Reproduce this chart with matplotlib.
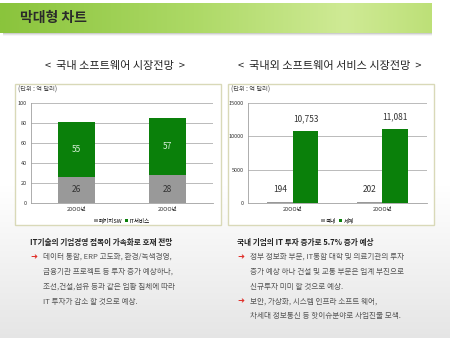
import numpy as np
from matplotlib import pyplot as plt
from matplotlib.patches import Rectangle

plt.rcParams['font.family'] = ['Noto Sans CJK KR', 'DejaVu Sans']

# data
years = ['20OO년', '20OO년']
pkg_sw = [26, 28]
it_svc = [55, 57]
domestic = [194, 202]
world = [10753, 11081]

W, H = 450, 338
def fx(px): return px / W
def fy(py): return 1 - py / H

fig = plt.figure(figsize=(4.5, 3.38), dpi=100)

# slide background with soft gray fade at bottom
bg = fig.add_axes([0, 0, 1, 1], zorder=-10)
grad = np.linspace(0, 1, 256)
shade = np.clip((grad - 0.55) / 0.45, 0, 1) * 0.10
img = np.ones((256, 2, 3)) * (1 - shade)[:, None, None]
bg.imshow(img, aspect='auto', extent=[0, 1, 0, 1], origin='upper')
bg.set_xlim(0, 1); bg.set_ylim(0, 1)
bg.axis('off')

# header band with soft shadow
for off, a in [(1, 0.25), (2, 0.15), (3, 0.08)]:
    bg.add_patch(Rectangle((fx(3), fy(33 + off)), fx(429), fy(33) - fy(33 + off),
                           color='#888888', alpha=a, lw=0, zorder=1))
hd = fig.add_axes([0, fy(33), fx(432), fy(3) - fy(33)], zorder=-5)
t = np.linspace(0, 1, 300)
stops = [0.0, 0.45, 0.8, 1.0]
cols = np.array([[0x8a, 0xc4, 0x3c], [0xad, 0xd9, 0x66], [0xcf, 0xea, 0x95], [0xbd, 0xe0, 0x78]]) / 255
row = np.stack([np.interp(t, stops, cols[:, i]) for i in range(3)], axis=1)
hd.imshow(row[None, :, :], aspect='auto', extent=[0, 1, 0, 1])
hd.axis('off')
fig.text(fx(20), fy(18), '막대형 차트', fontsize=10, fontweight='bold', color='#2a2a2a', va='center')

# subtitles
fig.text(fx(115), fy(66), '<  국내 소프트웨어 시장전망  >', fontsize=8, color='#222222', ha='center', va='center')
fig.text(fx(330), fy(66), '<  국내외 소프트웨어 서비스 시장전망  >', fontsize=8, color='#222222', ha='center', va='center')

# chart boxes
for x0, x1 in [(15, 221), (228, 434)]:
    bg.add_patch(Rectangle((fx(x0), fy(225)), fx(x1 - x0), fy(84) - fy(225),
                           facecolor='white', edgecolor='#d9d9b8', lw=1.0, zorder=2))
fig.text(fx(18), fy(90), '(단위 : 억 달러)', fontsize=4.5, color='#444444', va='center')
fig.text(fx(231), fy(90), '(단위 : 억 달러)', fontsize=4.5, color='#444444', va='center')

GREEN = '#0a800a'
GRAY = '#999999'

def style(ax):
    ax.set_facecolor('white')
    ax.grid(axis='y', color='#b0b0b0', lw=0.6)
    ax.set_axisbelow(True)
    for s in ['top', 'right']:
        ax.spines[s].set_visible(False)
    for s in ['left', 'bottom']:
        ax.spines[s].set_color('#a0a0a0')
        ax.spines[s].set_linewidth(0.6)
    ax.tick_params(length=0, labelsize=4, colors='#333333', pad=3)

# left stacked chart
ax1 = fig.add_axes([fx(31), fy(203), fx(182), fy(103) - fy(203)], zorder=3)
x = np.arange(len(years))
ax1.bar(x, pkg_sw, width=0.41, color=GRAY, label='패키지SW')
ax1.bar(x, it_svc, width=0.41, bottom=pkg_sw, color=GREEN, label='IT서비스')
ax1.set_xlim(-0.5, 1.5)
ax1.set_ylim(0, 100)
ax1.set_yticks([0, 20, 40, 60, 80, 100])
ax1.set_xticks(x)
ax1.set_xticklabels(years)
style(ax1)
for i in range(len(years)):
    ax1.text(x[i], pkg_sw[i] / 2, str(pkg_sw[i]), ha='center', va='center', fontsize=6, color='#333333')
    ax1.text(x[i], pkg_sw[i] + it_svc[i] / 2, str(it_svc[i]), ha='center', va='center', fontsize=6, color='#d8f0d8')
ax1.legend(loc='upper center', bbox_to_anchor=(0.5, -0.1), ncol=2, fontsize=4, frameon=False,
           handlelength=0.6, handleheight=0.6, handletextpad=0.2, columnspacing=0.5)

# right grouped chart
ax2 = fig.add_axes([fx(248), fy(203), fx(179), fy(103) - fy(203)], zorder=3)
w = 0.285
ax2.bar(x - w / 2, domestic, width=w, color=GRAY, label='국내')
ax2.bar(x + w / 2, world, width=w, color=GREEN, label='세계')
ax2.set_xlim(-0.5, 1.5)
ax2.set_ylim(0, 15000)
ax2.set_yticks([0, 5000, 10000, 15000])
ax2.set_xticks(x)
ax2.set_xticklabels(years)
style(ax2)
for i in range(len(years)):
    ax2.text(x[i] - w / 2, domestic[i] + 1200, f'{domestic[i]:,}', ha='center', va='bottom', fontsize=6, color='#333333')
    ax2.text(x[i] + w / 2, world[i] + 1200, f'{world[i]:,}', ha='center', va='bottom', fontsize=6, color='#333333')
ax2.legend(loc='upper center', bbox_to_anchor=(0.5, -0.1), ncol=2, fontsize=4, frameon=False,
           handlelength=0.6, handleheight=0.6, handletextpad=0.2, columnspacing=0.5)

# bottom notes
ARROW = '#e0302a'
TXT = '#555555'
fig.text(fx(30), fy(243), 'IT기술의 기업경영 접목이 가속화로 호재 전망', fontsize=5.5, fontweight='bold', color='#222222', va='center')
left_lines = ['데이터 통합, ERP 고도화, 환경/녹색경영,',
              '금융기관 프로젝트 등 투자 증가 예상하나,',
              '조선,건설,섬유 등과 같은 업황 침체에 따라',
              'IT 투자가 감소 할 것으로 예상.']
fig.text(fx(31), fy(257), '➜', fontsize=6, color=ARROW, va='center', family=['DejaVu Sans'])
for k, s in enumerate(left_lines):
    fig.text(fx(43), fy(257 + 15 * k), s, fontsize=5.5, color=TXT, va='center')

fig.text(fx(237), fy(243), '국내 기업의 IT 투자 증가로 5.7% 증가 예상', fontsize=5.5, fontweight='bold', color='#222222', va='center')
right_lines = [(True, '정부 정보화 부문, IT통합 대학 및 의료기관의 투자'),
               (False, '증가 예상 하나 건설 및 교통 부문은 업계 부진으로'),
               (False, '신규투자 미미 할 것으로 예상.'),
               (True, '보안, 가상화, 시스템 인프라 소프트 웨어,'),
               (False, '차세대 정보통신 등 핫이슈분야로 사업진출 모색.')]
for k, (arr, s) in enumerate(right_lines):
    yy = 257 + 14.8 * k
    if arr:
        fig.text(fx(238), fy(yy), '➜', fontsize=6, color=ARROW, va='center', family=['DejaVu Sans'])
    fig.text(fx(250), fy(yy), s, fontsize=5.5, color=TXT, va='center')

fig.savefig('out.png', dpi=100)
plt.close('all')
